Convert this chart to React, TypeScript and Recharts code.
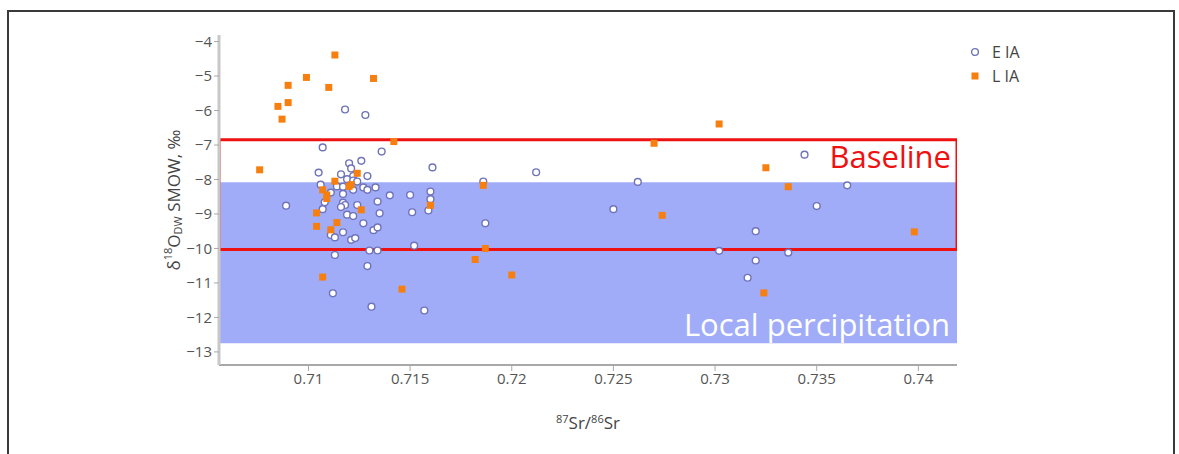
import { ScatterChart, Scatter, XAxis, YAxis, ReferenceArea, Label } from "recharts";

// E IA (open circles)
const E_IA_X = [
  0.7118, 0.7128, 0.7107, 0.7136, 0.7161, 0.712, 0.7126, 0.7121, 0.7105, 0.7116,
  0.7122, 0.7129, 0.7119, 0.7122, 0.7124, 0.7106, 0.7114, 0.7117, 0.7122, 0.7127,
  0.7129, 0.7133, 0.7111, 0.7117, 0.714, 0.715, 0.716, 0.716, 0.7159, 0.7134,
  0.7108, 0.7117, 0.7118, 0.7116, 0.7107, 0.7089, 0.7124, 0.7135, 0.7151, 0.7119,
  0.7122, 0.7127, 0.7132, 0.7134, 0.7117, 0.7111, 0.7113, 0.7121, 0.7123, 0.7152,
  0.713, 0.7134, 0.7113, 0.7129, 0.7112, 0.7131, 0.7157, 0.7186, 0.7187, 0.7212,
  0.7262, 0.725, 0.7302, 0.732, 0.732, 0.7316, 0.7336, 0.7344, 0.735, 0.7365,
];
const E_IA_Y = [
  -5.97, -6.13, -7.07, -7.19, -7.65, -7.53, -7.46, -7.68, -7.8, -7.85,
  -7.9, -7.9, -7.99, -8.03, -8.06, -8.15, -8.2, -8.21, -8.3, -8.23,
  -8.3, -8.23, -8.38, -8.42, -8.46, -8.45, -8.35, -8.57, -8.9, -8.64,
  -8.66, -8.67, -8.74, -8.8, -8.86, -8.76, -8.74, -8.98, -8.95, -9.02,
  -9.06, -9.27, -9.47, -9.39, -9.53, -9.61, -9.68, -9.75, -9.7, -9.92,
  -10.06, -10.06, -10.19, -10.51, -11.3, -11.69, -11.8, -8.06, -9.27, -7.79,
  -8.07, -8.86, -10.07, -9.5, -10.35, -10.85, -10.12, -7.28, -8.77, -8.17,
];

// L IA (orange squares)
const L_IA_X = [
  0.7113, 0.7132, 0.7099, 0.711, 0.709, 0.709, 0.7085, 0.7087, 0.7142, 0.7076,
  0.7124, 0.7113, 0.712, 0.7121, 0.7107, 0.7109, 0.7109, 0.7126, 0.716, 0.7104,
  0.7104, 0.7114, 0.7111, 0.7107, 0.7146, 0.7186, 0.7302, 0.727, 0.7325, 0.7336,
  0.7274, 0.7398, 0.7187, 0.7182, 0.72, 0.7324,
];
const L_IA_Y = [
  -4.39, -5.07, -5.04, -5.33, -5.27, -5.77, -5.88, -6.25, -6.9, -7.72,
  -7.82, -8.05, -8.2, -8.15, -8.3, -8.45, -8.55, -8.88, -8.75, -8.97,
  -9.36, -9.25, -9.46, -10.83, -11.18, -8.17, -6.39, -6.95, -7.66, -8.21,
  -9.04, -9.52, -10.0, -10.32, -10.77, -11.29,
];

const X_TICKS = [0.71, 0.715, 0.72, 0.725, 0.73, 0.735, 0.74];
const Y_TICKS = [-4, -5, -6, -7, -8, -9, -10, -11, -12, -13];

const LOCAL_BAND = [-12.75, -8.08];
const BASELINE_BOX = [-10.03, -6.85];

const eData = E_IA_X.map((x, i) => ({ x, y: E_IA_Y[i] }));
const lData = L_IA_X.map((x, i) => ({ x, y: L_IA_Y[i] }));

const FONT = "'Open Sans', sans-serif";
const BLUE = "#6f73b8";
const ORANGE = "#f77f0f";
const RED = "#ee1111";

const Circle = (p: any) => (
  <circle cx={p.cx} cy={p.cy} r={3.4} fill="#fff" stroke={BLUE} strokeWidth={1.4} />
);
const Square = (p: any) => (
  <rect x={p.cx - 3.5} y={p.cy - 3.5} width={7} height={7} fill={ORANGE} />
);

const YTitle = (p: any) => {
  const vb = p.viewBox;
  const cx = 175;
  const cy = vb.y + vb.height / 2;
  return (
    <text
      x={cx}
      y={cy}
      transform={`rotate(-90 ${cx} ${cy})`}
      textAnchor="middle"
      dominantBaseline="middle"
      fontFamily={FONT}
      fontSize={17}
      fill="#444"
    >
      δ<tspan fontSize={11} dy={-6}>18</tspan>
      <tspan dy={6}>O</tspan>
      <tspan fontSize={11} dy={4}>DW</tspan>
      <tspan dy={-4}> SMOW, ‰</tspan>
    </text>
  );
};

const XTitle = (p: any) => {
  const vb = p.viewBox;
  const cx = vb.x + vb.width / 2;
  return (
    <text x={cx} y={429} textAnchor="middle" fontFamily={FONT} fontSize={17} fill="#444">
      <tspan fontSize={11} dy={-6}>87</tspan>
      <tspan dy={6}>Sr/</tspan>
      <tspan fontSize={11} dy={-6}>86</tspan>
      <tspan dy={6}>Sr</tspan>
    </text>
  );
};

const fmtY = (v: number) => String(v).replace("-", "\u2212");

export default function App() {
  return (
    <div style={{ position: "absolute", left: 0, top: 0, width: 1179, height: 454, background: "#fff", overflow: "hidden" }}>
      <div style={{ position: "absolute", left: 7, top: 10, width: 1168, height: 500, border: "2px solid #3a3a3a", boxSizing: "border-box" }} />
      <ScatterChart width={1179} height={454} margin={{ top: 35, right: 222, bottom: 0, left: 0 }} style={{ position: "absolute", left: 0, top: 0 }}>
        <XAxis
          type="number"
          dataKey="x"
          domain={[0.7056, 0.7419]}
          ticks={X_TICKS}
          allowDataOverflow
          height={89}
          tick={{ fontSize: 15, fill: "#555", fontFamily: FONT }}
          tickSize={6}
          axisLine={{ stroke: "#a8a8a8", strokeWidth: 2 }}
          tickLine={{ stroke: "#a8a8a8" }}
        >
          <Label content={XTitle} />
        </XAxis>
        <YAxis
          type="number"
          dataKey="y"
          domain={[-13.38, -3.81]}
          ticks={Y_TICKS}
          allowDataOverflow
          width={219}
          tick={{ fontSize: 15, fill: "#555", fontFamily: FONT }}
          tickFormatter={fmtY}
          tickSize={5}
          axisLine={{ stroke: "#c8c8c8", strokeWidth: 3 }}
          tickLine={{ stroke: "#a8a8a8" }}
        >
          <Label content={YTitle} />
        </YAxis>
        <ReferenceArea y1={LOCAL_BAND[0]} y2={LOCAL_BAND[1]} fill="#a0acf8" fillOpacity={1} stroke="none" ifOverflow="hidden">
          <Label
            value="Local percipitation"
            position="insideBottomRight"
            offset={7}
            fill="#fff"
            fontSize={31}
            fontFamily={FONT}
          />
        </ReferenceArea>
        <ReferenceArea y1={BASELINE_BOX[0]} y2={BASELINE_BOX[1]} fill="none" fillOpacity={0} stroke={RED} strokeWidth={3} ifOverflow="hidden">
          <Label
            value="Baseline"
            position="insideTopRight"
            offset={6}
            fill={RED}
            fontSize={31}
            fontFamily={FONT}
          />
        </ReferenceArea>
        <Scatter name="E IA" data={eData} shape={Circle} isAnimationActive={false} />
        <Scatter name="L IA" data={lData} shape={Square} isAnimationActive={false} />
      </ScatterChart>
      <div style={{ position: "absolute", left: 968, top: 40, fontFamily: FONT, fontSize: 16, color: "#444", lineHeight: "24px" }}>
        <div style={{ display: "flex", alignItems: "center" }}>
          <svg width={14} height={14} style={{ marginRight: 10 }}>
            <circle cx={7} cy={7} r={3.4} fill="#fff" stroke={BLUE} strokeWidth={1.4} />
          </svg>
          E IA
        </div>
        <div style={{ display: "flex", alignItems: "center" }}>
          <svg width={14} height={14} style={{ marginRight: 10 }}>
            <rect x={3.5} y={3.5} width={7} height={7} fill={ORANGE} />
          </svg>
          L IA
        </div>
      </div>
    </div>
  );
}
